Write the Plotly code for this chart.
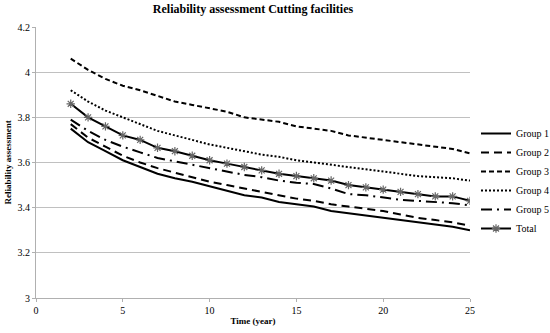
import plotly.graph_objects as go

years = list(range(2, 26))
group1 = [3.75, 3.69, 3.65, 3.61, 3.58, 3.55, 3.53, 3.515, 3.495, 3.475, 3.455, 3.445, 3.425, 3.415, 3.405, 3.385, 3.375, 3.365, 3.355, 3.345, 3.335, 3.325, 3.315, 3.30]
group2 = [3.77, 3.71, 3.67, 3.63, 3.60, 3.575, 3.555, 3.535, 3.515, 3.50, 3.485, 3.47, 3.455, 3.44, 3.43, 3.415, 3.405, 3.395, 3.385, 3.37, 3.355, 3.345, 3.335, 3.32]
group3 = [4.06, 4.01, 3.97, 3.94, 3.92, 3.895, 3.87, 3.855, 3.84, 3.825, 3.80, 3.79, 3.78, 3.76, 3.75, 3.74, 3.72, 3.71, 3.70, 3.69, 3.68, 3.67, 3.66, 3.64]
group4 = [3.92, 3.87, 3.83, 3.80, 3.77, 3.74, 3.72, 3.70, 3.68, 3.665, 3.65, 3.635, 3.625, 3.61, 3.60, 3.59, 3.58, 3.57, 3.56, 3.55, 3.54, 3.535, 3.53, 3.52]
group5 = [3.79, 3.74, 3.70, 3.67, 3.645, 3.62, 3.605, 3.59, 3.575, 3.56, 3.545, 3.535, 3.52, 3.51, 3.505, 3.485, 3.46, 3.455, 3.445, 3.435, 3.43, 3.425, 3.42, 3.41]
total = [3.86, 3.80, 3.76, 3.72, 3.70, 3.665, 3.65, 3.63, 3.61, 3.595, 3.58, 3.565, 3.55, 3.54, 3.53, 3.52, 3.50, 3.49, 3.48, 3.47, 3.46, 3.45, 3.45, 3.43]

series = [
    ("Group 1", group1, "solid"),
    ("Group 2", group2, "8px,5px"),
    ("Group 3", group3, "5px,3px"),
    ("Group 4", group4, "2px,2px"),
    ("Group 5", group5, "11px,5px,2px,5px"),
]

fig = go.Figure()
for name, vals, dash in series:
    fig.add_trace(go.Scatter(x=years, y=vals, name=name, mode="lines",
                             line=dict(color="black", width=2, dash=dash)))
fig.add_trace(go.Scatter(x=years, y=total, name="Total", mode="lines+markers",
                         line=dict(color="black", width=2),
                         marker=dict(symbol="asterisk-open", size=7,
                                     line=dict(color="#666666", width=1.2), color="#666666")))

font_family = "Liberation Serif, Times New Roman, serif"
fig.update_layout(
    width=550, height=333,
    margin=dict(l=36, r=80, t=27, b=35, autoexpand=False),
    paper_bgcolor="white", plot_bgcolor="white",
    font=dict(family=font_family, size=10, color="black"),
    title=dict(text="<b>Reliability assessment Cutting facilities</b>",
               x=0.5, xref="paper", yref="container", y=1 - 5 / 333, yanchor="top",
               font=dict(size=12, family=font_family)),
    legend=dict(xref="container", yref="container", x=476 / 550, y=1 - 119 / 333,
                xanchor="left", yanchor="top",
                font=dict(size=10, family=font_family),
                tracegroupgap=0, itemwidth=30, bgcolor="rgba(0,0,0,0)"),
    showlegend=True,
)
fig.update_xaxes(range=[0, 25], tickvals=[0, 5, 10, 15, 20, 25],
                 showgrid=False, showline=True, linecolor="#b0b0b0", linewidth=1,
                 ticks="outside", ticklen=3, tickcolor="#b0b0b0",
                 zeroline=False, automargin=False,
                 title=dict(text="<b>Time (year)</b>", font=dict(size=9, family=font_family), standoff=2))
fig.update_yaxes(range=[3, 4.2], tickvals=[3, 3.2, 3.4, 3.6, 3.8, 4, 4.2],
                 ticktext=["3", "3.2", "3.4", "3.6", "3.8", "4", "4.2"],
                 showgrid=True, gridcolor="#c0c0c0", gridwidth=1,
                 showline=True, linecolor="#b0b0b0", linewidth=1,
                 ticks="outside", ticklen=3, tickcolor="#b0b0b0",
                 zeroline=False, automargin=False,
                 title=dict(text="<b>Reliability assessment</b>", font=dict(size=9, family=font_family), standoff=4))

fig.write_html("out.html", config={"displayModeBar": False},
               post_script="document.body.style.margin='0';")
